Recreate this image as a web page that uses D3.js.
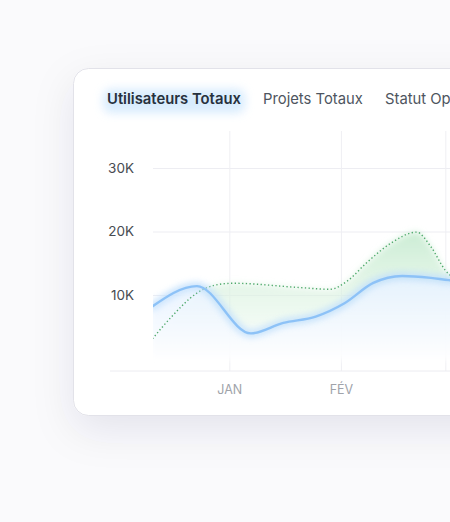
<!DOCTYPE html>
<html>
<head>
<meta charset="utf-8">
<script src="https://cdn.jsdelivr.net/npm/d3@7"></script>
<style>
  html, body { margin: 0; padding: 0; background: #fafafc; }
  svg { display: block; font-family: Inter, 'Noto Sans', sans-serif; }
</style>
</head>
<body>
<div id="chart"></div>
<script>
// Tabs above the chart
var tabLabels = ['Utilisateurs Totaux', 'Projets Totaux', 'Statut Opérationnel'];

// Month gridlines and visible labels
var monthTicks = ['2024-01-01', '2024-02-01', '2024-03-01'];
var monthLabels = ['JAN', 'FÉV'];

// Y ticks
var yTicks = [10000, 20000, 30000];

// Blue series (solid line)
var usersDates = ['2023-12-10', '2023-12-23', '2024-01-07', '2024-01-16', '2024-01-25', '2024-02-02', '2024-02-10', '2024-02-18', '2024-02-26', '2024-03-02', '2024-03-08'];
var usersValues = [7950, 11400, 3950, 5600, 6600, 8700, 11900, 13000, 12700, 12350, 12100];

// Green series (dotted line)
var projectsDates = ['2023-12-10', '2023-12-16', '2023-12-23', '2023-12-28', '2024-01-02', '2024-01-20', '2024-01-29', '2024-02-03', '2024-02-08', '2024-02-15', '2024-02-22', '2024-02-26', '2024-03-01', '2024-03-08'];
var projectsValues = [2650, 6600, 10300, 11550, 11850, 11200, 10900, 12300, 15000, 18200, 19900, 17600, 13900, 11500];

var parse = d3.utcParse('%Y-%m-%d');

var svgWidth = 450;
var svgHeight = 522;

var svg = d3.select('#chart').append('svg').attr('width', svgWidth).attr('height', svgHeight);
var defs = svg.append('defs');

// Card shadow
var shadow = defs.append('filter').attr('id', 'cardShadow')
	.attr('x', '-30%').attr('y', '-30%').attr('width', '160%').attr('height', '170%');
shadow.append('feDropShadow').attr('dx', 0).attr('dy', 14).attr('stdDeviation', 20)
	.attr('flood-color', '#28285a').attr('flood-opacity', 0.09);

var blur3 = defs.append('filter').attr('id', 'blur3').attr('x', '-20%').attr('y', '-50%').attr('width', '140%').attr('height', '200%');
blur3.append('feGaussianBlur').attr('stdDeviation', 3);
var blur6 = defs.append('filter').attr('id', 'blur6').attr('x', '-30%').attr('y', '-80%').attr('width', '160%').attr('height', '260%');
blur6.append('feGaussianBlur').attr('stdDeviation', 5);

// Gradients for areas
var gGreen = defs.append('linearGradient').attr('id', 'gradGreen').attr('x1', 0).attr('y1', 0).attr('x2', 0).attr('y2', 1);
gGreen.append('stop').attr('offset', '0%').attr('stop-color', '#c9ecd2').attr('stop-opacity', 0.95);
gGreen.append('stop').attr('offset', '70%').attr('stop-color', '#e3f5e7').attr('stop-opacity', 0.5);
gGreen.append('stop').attr('offset', '100%').attr('stop-color', '#ffffff').attr('stop-opacity', 0);

var gBlue = defs.append('linearGradient').attr('id', 'gradBlue').attr('x1', 0).attr('y1', 0).attr('x2', 0).attr('y2', 1);
gBlue.append('stop').attr('offset', '0%').attr('stop-color', '#e6f2fe').attr('stop-opacity', 0.95);
gBlue.append('stop').attr('offset', '60%').attr('stop-color', '#f4f9ff').attr('stop-opacity', 0.9);
gBlue.append('stop').attr('offset', '100%').attr('stop-color', '#ffffff').attr('stop-opacity', 0.9);

// Card
svg.append('rect')
	.attr('x', 73.5).attr('y', 68.5).attr('width', 520).attr('height', 347)
	.attr('rx', 15)
	.attr('fill', '#ffffff')
	.attr('stroke', '#e2e2e9')
	.attr('filter', 'url(#cardShadow)');

// Tab glow behind active tab
svg.append('rect')
	.attr('x', 103).attr('y', 89).attr('width', 142).attr('height', 24).attr('rx', 8)
	.attr('fill', '#d4eafd').attr('opacity', 0.9)
	.attr('filter', 'url(#blur6)');

var tabX = [107, 263, 385];
svg.selectAll('.tab')
	.data(tabLabels)
	.enter()
	.append('text')
	.attr('class', 'tab')
	.attr('x', (d, i) => tabX[i])
	.attr('y', 104)
	.attr('font-size', '14.8px')
	.attr('font-weight', (d, i) => (i === 0 ? 600 : 400))
	.attr('fill', (d, i) => (i === 0 ? '#27313d' : '#4e5560'))
	.text((d) => d);

// Scales
var xScale = d3.scaleUtc()
	.domain([parse(monthTicks[0]), parse(monthTicks[2])])
	.range([229.3, 445.3]);

var yScale = d3.scaleLinear().domain([0, 30000]).range([358.5, 168]);

var plotLeft = 153;
var plotRight = 600;
var axisY = 371;

var chartGroup = svg.append('g');

// Horizontal gridlines
chartGroup.append('g')
	.attr('transform', `translate(${plotLeft}, 0)`)
	.call(d3.axisLeft(yScale).tickValues(yTicks).tickSize(-(plotRight - plotLeft)).tickFormat(''))
	.call((g) => g.select('.domain').remove())
	.call((g) => g.selectAll('line').attr('stroke', '#ededf2'));

// Vertical gridlines
chartGroup.append('g')
	.attr('transform', `translate(0, ${axisY})`)
	.call(d3.axisBottom(xScale).tickValues(monthTicks.map(parse)).tickSize(-(axisY - 131)).tickFormat(''))
	.call((g) => g.select('.domain').remove())
	.call((g) => g.selectAll('line').attr('stroke', '#efeff3'));

// Bottom axis line
chartGroup.append('line')
	.attr('x1', 110).attr('x2', plotRight)
	.attr('y1', axisY).attr('y2', axisY)
	.attr('stroke', '#ececf1');

// Y axis labels
var yAxis = chartGroup.append('g')
	.attr('transform', 'translate(134, 0)')
	.call(d3.axisLeft(yScale).tickValues(yTicks).tickSize(0).tickPadding(0).tickFormat((d) => d / 1000 + 'K'));
yAxis.select('.domain').remove();
yAxis.selectAll('text')
	.attr('font-family', 'Inter, sans-serif')
	.attr('font-size', '13.5px')
	.attr('fill', '#474b52');

// X axis labels (only the months visible in the card)
var xAxis = chartGroup.append('g')
	.attr('transform', `translate(0, ${axisY + 14})`)
	.call(d3.axisBottom(xScale).tickValues(monthTicks.slice(0, monthLabels.length).map(parse)).tickSize(0).tickPadding(0)
		.tickFormat((d, i) => monthLabels[i]));
xAxis.select('.domain').remove();
xAxis.selectAll('text')
	.attr('font-family', 'Inter, sans-serif')
	.attr('font-size', '12.5px')
	.attr('fill', '#a0a3aa');

// Data
var usersData = usersDates.map((d, i) => ({ date: parse(d), value: usersValues[i] }));
var projectsData = projectsDates.map((d, i) => ({ date: parse(d), value: projectsValues[i] }));

var line = d3.line()
	.x((d) => xScale(d.date))
	.y((d) => yScale(d.value))
	.curve(d3.curveMonotoneX);

var area = d3.area()
	.x((d) => xScale(d.date))
	.y0(yScale(0) + 2)
	.y1((d) => yScale(d.value))
	.curve(d3.curveMonotoneX);

var clip = defs.append('clipPath').attr('id', 'plotClip');
clip.append('rect').attr('x', plotLeft).attr('y', 120).attr('width', 400).attr('height', 250);

var plot = chartGroup.append('g').attr('clip-path', 'url(#plotClip)');

// Green area
plot.append('path')
	.datum(projectsData)
	.attr('d', area)
	.attr('fill', 'url(#gradGreen)')
	.attr('filter', 'url(#blur3)');

// Blue area
plot.append('path')
	.datum(usersData)
	.attr('d', area)
	.attr('fill', 'url(#gradBlue)')
	.attr('filter', 'url(#blur3)');

// Green dotted line
plot.append('path')
	.datum(projectsData)
	.attr('d', line)
	.attr('fill', 'none')
	.attr('stroke', '#4fa96b')
	.attr('stroke-width', 1.4)
	.attr('stroke-dasharray', '1.3 2.4');

// Blue line glow
plot.append('path')
	.datum(usersData)
	.attr('d', line)
	.attr('fill', 'none')
	.attr('stroke', '#b7dafc')
	.attr('stroke-width', 8)
	.attr('opacity', 0.7)
	.attr('filter', 'url(#blur3)');

// Blue line
plot.append('path')
	.datum(usersData)
	.attr('d', line)
	.attr('fill', 'none')
	.attr('stroke', '#8dc2f7')
	.attr('stroke-width', 2.4)
	.attr('stroke-linecap', 'round');
</script>
</body>
</html>
